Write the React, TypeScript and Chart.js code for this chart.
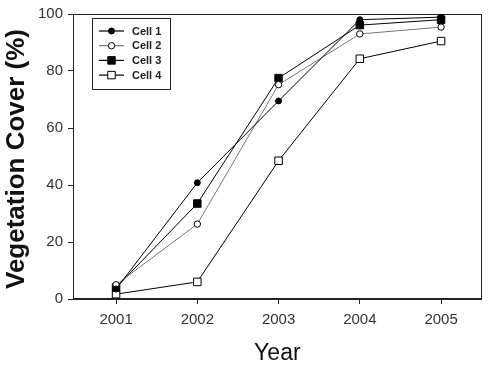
import React, { useEffect, useRef } from 'react';
import { Chart, registerables } from 'chart.js';

Chart.register(...registerables);

const years = [2001, 2002, 2003, 2004, 2005];
const cell1 = [3.5, 40.8, 69.5, 98, 98.9];
const cell2 = [5, 26.3, 75.2, 93, 95.4];
const cell3 = [4, 33.5, 77.5, 96.1, 98];
const cell4 = [1.7, 6, 48.5, 84.3, 90.5];
const seriesNames = ['Cell 1', 'Cell 2', 'Cell 3', 'Cell 4'];
const yTicks = [0, 20, 40, 60, 80, 100];
const xTitle = 'Year';
const yTitle = 'Vegetation Cover (%)';

const FONT = '"Liberation Sans", Arial, sans-serif';

type Style = { line: string; fill: string; shape: 'circle' | 'rect'; r: number };
const styles: Style[] = [
  { line: '#000', fill: '#000', shape: 'circle', r: 3 },
  { line: '#777', fill: '#fff', shape: 'circle', r: 3.2 },
  { line: '#000', fill: '#000', shape: 'rect', r: 5.3 },
  { line: '#000', fill: '#fff', shape: 'rect', r: 5.3 },
];

function drawMarker(ctx: CanvasRenderingContext2D, x: number, y: number, s: Style) {
  ctx.beginPath();
  if (s.shape === 'circle') {
    ctx.arc(x, y, s.r, 0, Math.PI * 2);
  } else {
    const h = s.r * Math.SQRT1_2;
    ctx.rect(x - h, y - h, 2 * h, 2 * h);
  }
  ctx.fillStyle = s.fill;
  ctx.fill();
  ctx.strokeStyle = '#000';
  ctx.lineWidth = 1;
  ctx.stroke();
}

const framePlugin = {
  id: 'frameAndLegend',
  beforeDatasetsDraw(chart: any) {
    const { ctx, chartArea } = chart;
    ctx.save();
    ctx.strokeStyle = '#222';
    ctx.lineWidth = 1;
    ctx.strokeRect(
      Math.round(chartArea.left) + 0.5,
      Math.round(chartArea.top) + 0.5,
      Math.round(chartArea.right - chartArea.left) - 1,
      Math.round(chartArea.bottom - chartArea.top) - 1
    );
    ctx.restore();
  },
  afterDraw(chart: any) {
    const ctx: CanvasRenderingContext2D = chart.ctx;
    ctx.save();
    // y-axis title
    ctx.translate(17, 159);
    ctx.rotate(-Math.PI / 2);
    ctx.fillStyle = '#111';
    ctx.font = `bold 26px ${FONT}`;
    ctx.textAlign = 'center';
    ctx.textBaseline = 'middle';
    ctx.fillText(yTitle, 0, 0);
    ctx.restore();

    ctx.save();
    const bx = 92, by = 18, bw = 78, bh = 71;
    ctx.fillStyle = '#fff';
    ctx.fillRect(bx, by, bw, bh);
    ctx.strokeStyle = '#222';
    ctx.lineWidth = 1;
    ctx.strokeRect(bx + 0.5, by + 0.5, bw, bh);
    seriesNames.forEach((name, i) => {
      const y = 31 + i * 14.7;
      const s = styles[i];
      ctx.beginPath();
      ctx.moveTo(99, y);
      ctx.lineTo(124, y);
      ctx.strokeStyle = s.line;
      ctx.lineWidth = 1.2;
      ctx.stroke();
      drawMarker(ctx, 111.5, y, s);
      ctx.fillStyle = '#222';
      ctx.font = `bold 11px ${FONT}`;
      ctx.textAlign = 'left';
      ctx.textBaseline = 'middle';
      ctx.fillText(name, 132, y + 0.5);
    });
    ctx.restore();
  },
};

export default function App() {
  const ref = useRef<HTMLCanvasElement | null>(null);

  useEffect(() => {
    if (!ref.current) return;
    const series = [cell1, cell2, cell3, cell4];
    const chart = new Chart(ref.current, {
      type: 'line',
      data: {
        datasets: series.map((vals, i) => ({
          label: seriesNames[i],
          data: vals.map((v, j) => ({ x: years[j], y: v })),
          borderColor: styles[i].line,
          borderWidth: 1,
          backgroundColor: styles[i].fill,
          pointBackgroundColor: styles[i].fill,
          pointBorderColor: '#000',
          pointBorderWidth: 1,
          pointStyle: styles[i].shape,
          pointRadius: styles[i].r,
          tension: 0,
          fill: false,
        })),
      },
      options: {
        animation: false,
        responsive: false,
        events: [],
        layout: { padding: { top: 6, right: 6, left: 0, bottom: 0 } },
        plugins: {
          legend: { display: false },
          tooltip: { enabled: false },
        },
        scales: {
          x: {
            type: 'linear',
            min: 2000.47,
            max: 2005.5,
            afterBuildTicks: (scale: any) => {
              scale.ticks = years.map((v) => ({ value: v }));
            },
            afterFit: (scale: any) => {
              scale.height = 68;
            },
            grid: {
              drawOnChartArea: false,
              drawTicks: true,
              tickLength: 5,
              color: '#222',
              lineWidth: 1,
            },
            border: { display: true, color: '#222', width: 1 },
            ticks: {
              padding: 7,
              color: '#333',
              font: { family: FONT, size: 15 },
              callback: (v: any) => String(v),
              maxRotation: 0,
            },
            title: {
              display: true,
              text: xTitle,
              color: '#111',
              font: { family: FONT, size: 23 },
              padding: { top: 0, bottom: 0 },
            },
          },
          y: {
            type: 'linear',
            min: 0,
            max: 100,
            afterBuildTicks: (scale: any) => {
              scale.ticks = yTicks.map((v) => ({ value: v }));
            },
            afterFit: (scale: any) => {
              scale.width = 73;
            },
            grid: {
              drawOnChartArea: false,
              drawTicks: true,
              tickLength: 5,
              color: '#222',
              lineWidth: 1,
            },
            border: { display: true, color: '#222', width: 1 },
            ticks: {
              padding: 5,
              color: '#333',
              font: { family: FONT, size: 15 },
              callback: (v: any) => String(v),
            },
            title: { display: false },
          },
        },
      },
      plugins: [framePlugin],
    } as any);
    return () => chart.destroy();
  }, []);

  return (
    <div style={{ position: 'fixed', left: 0, top: 0, width: 488, height: 367, background: '#fff' }}>
      <canvas ref={ref} width={488} height={367} style={{ display: 'block' }} />
    </div>
  );
}
